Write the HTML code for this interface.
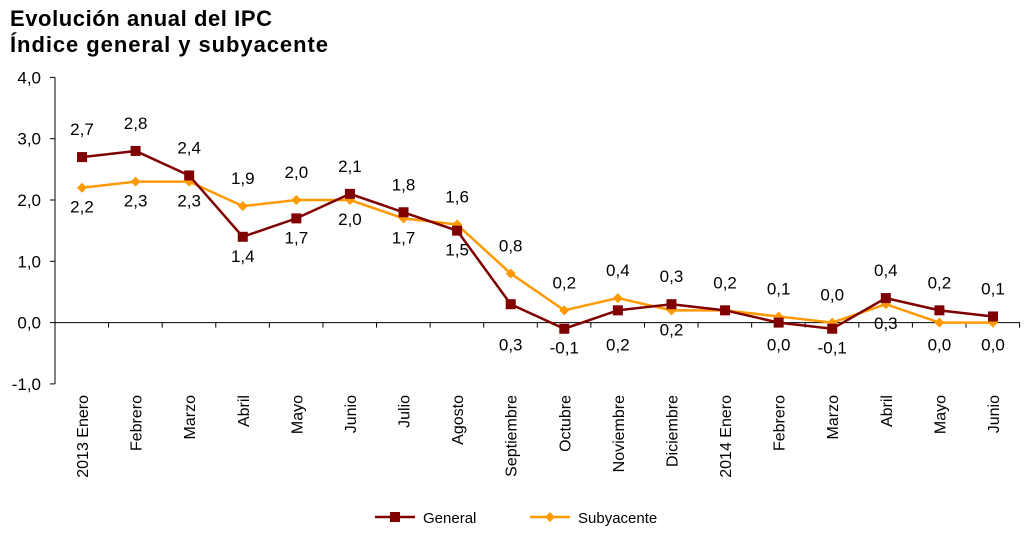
<!DOCTYPE html>
<html><head><meta charset="utf-8"><style>
body{margin:0;background:#fff;}
svg text{font-family:"Liberation Sans",Arial,sans-serif;}
</style></head><body>
<svg width="1028" height="538" xmlns="http://www.w3.org/2000/svg">
<text x="10" y="26" font-size="22" font-weight="bold" textLength="262">Evolución anual del IPC</text>
<text x="10" y="52" font-size="22" font-weight="bold" textLength="318">Índice general y subyacente</text>
<g id="axes"></g><g id="series"></g>
<g>
<line x1="375" y1="517" x2="415" y2="517" stroke="#800000" stroke-width="2.5"/>
<rect x="390" y="512" width="10" height="10" fill="#800000"/>
<text x="423" y="523" font-size="15">General</text>
<line x1="530" y1="517" x2="570" y2="517" stroke="#ff9900" stroke-width="2.5"/>
<polygon points="550,512 555,517 550,522 545,517" fill="#ff9900"/>
<text x="578" y="523" font-size="15">Subyacente</text>
</g>
</svg>
<script>
const categories=["2013 Enero","Febrero","Marzo","Abril","Mayo","Junio","Julio","Agosto","Septiembre","Octubre","Noviembre","Diciembre","2014 Enero","Febrero","Marzo","Abril","Mayo","Junio"];
const general=[2.7,2.8,2.4,1.4,1.7,2.1,1.8,1.5,0.3,-0.1,0.2,0.3,0.2,0.0,-0.1,0.4,0.2,0.1];
const subyacente=[2.2,2.3,2.3,1.9,2.0,2.0,1.7,1.6,0.8,0.2,0.4,0.2,0.2,0.1,0.0,0.3,0.0,0.0];
const generalLabelPos=[1,1,1,-1,-1,1,1,-1,-1,-1,-1,1,1,-1,-1,1,1,1];
const subLabelPos=[-1,-1,-1,1,1,-1,-1,1,1,1,1,-1,0,1,1,-1,-1,-1];
const yTicks=[-1,0,1,2,3,4];
const NS="http://www.w3.org/2000/svg";
const X=i=>82+i*(993-82)/17;
const Y=v=>322.6-v*61.3;
const fmt=v=>v.toFixed(1).replace('.',',');
function mk(tag,attrs,parent,txt){const e=document.createElementNS(NS,tag);for(const k in attrs)e.setAttribute(k,attrs[k]);if(txt!==undefined)e.textContent=txt;parent.appendChild(e);return e;}
const ax=document.getElementById('axes');
let yl=mk('line',{x1:55,y1:Y(4),x2:55,y2:Y(-1),stroke:'#000'},ax);


yTicks.forEach(t=>{
 mk('line',{x1:50,y1:Y(t),x2:55,y2:Y(t),stroke:'#000'},ax);
 let tx=mk('text',{x:41,y:Y(t)+6,'font-size':17,'text-anchor':'end'},ax,fmt(t));
 
 
});
let xl=mk('line',{x1:55,y1:Y(0),x2:1020,y2:Y(0),stroke:'#000'},ax);


const step=(993-82)/17;
for(let i=0;i<=18;i++){mk('line',{x1:55+i*step,y1:Y(0),x2:55+i*step,y2:Y(0)+5,stroke:'#000'},ax);}
categories.forEach((c,i)=>{
 let tx=mk('text',{x:0,y:0,'font-size':16,'text-anchor':'end',transform:`translate(${X(i)+6},395) rotate(-90)`},ax,c);
 
 
});
const sg=document.getElementById('series');
function drawSeries(vals,color,pos,marker,name){
 let p=mk('polyline',{points:vals.map((v,i)=>X(i)+','+Y(v)).join(' '),fill:'none',stroke:color,'stroke-width':2.5},sg);
 
 
 vals.forEach((v,i)=>{
  let m;
  if(marker==='sq')m=mk('rect',{x:X(i)-5,y:Y(v)-5,width:10,height:10,fill:color},sg);
  else m=mk('polygon',{points:`${X(i)},${Y(v)-5} ${X(i)+5},${Y(v)} ${X(i)},${Y(v)+5} ${X(i)-5},${Y(v)}`,fill:color},sg);
  
  
  if(pos[i]!==0){
   let ty=pos[i]>0?Y(v)-22:Y(v)+25;
   if(pos[i]<0&&v<0.5&&(name==='general'||v<=0))ty=Math.max(ty,Y(0)+28);
   let t=mk('text',{x:X(i),y:ty,'font-size':17,'text-anchor':'middle'},sg,fmt(v));
   
   
  }
 });
}
drawSeries(subyacente,'#ff9900',subLabelPos,'di','subyacente');
drawSeries(general,'#800000',generalLabelPos,'sq','general');
</script>
</body></html>
